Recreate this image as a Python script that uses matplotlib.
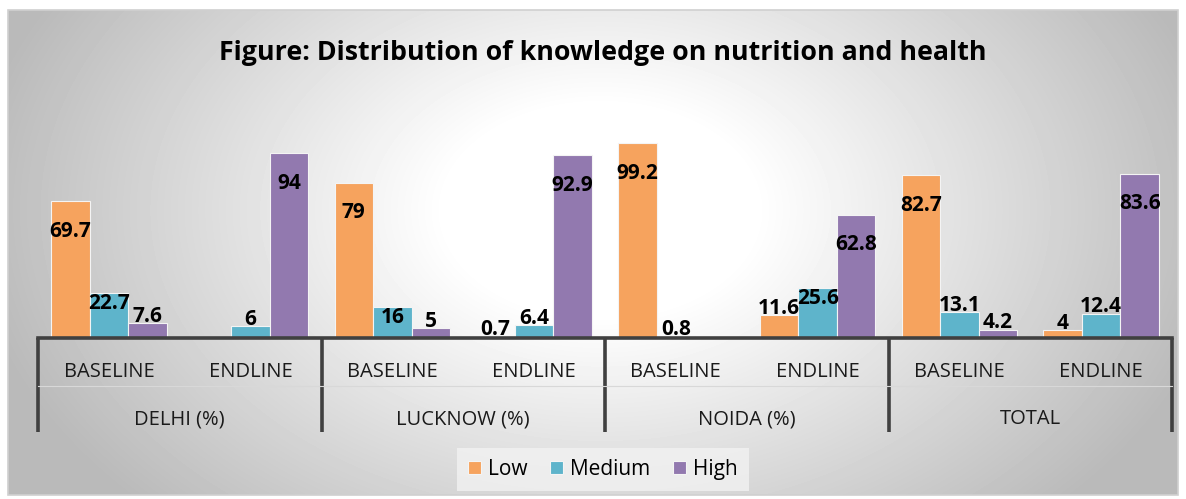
import numpy as np
import matplotlib
matplotlib.use("Agg")
import matplotlib.pyplot as plt
from matplotlib.patches import Rectangle

plt.rcParams['font.family'] = ['Open Sans', 'DejaVu Sans']

# ------------------------
# Data
# ------------------------
groups = ["DELHI (%)", "LUCKNOW (%)", "NOIDA (%)", "TOTAL"]
phases = ["BASELINE", "ENDLINE"]
low = [69.7, None, 79, 0.7, 99.2, 11.6, 82.7, 4]
medium = [22.7, 6, 16, 6.4, 0.8, 25.6, 13.1, 12.4]
high = [7.6, 94, 5, 92.9, None, 62.8, 4.2, 83.6]
series_names = ["Low", "Medium", "High"]
colors = ["#F6A35E", "#5EB4CB", "#9279AF"]

W, H = 1186, 499
fig = plt.figure(figsize=(W / 100, H / 100), dpi=100)

# ------------------------
# Background with radial gradient
# ------------------------
bg = fig.add_axes([0, 0, 1, 1])
bg.set_xlim(0, W)
bg.set_ylim(H, 0)
bg.axis("off")
yy, xx = np.mgrid[0:H, 0:W]
dist = np.sqrt(((xx - 600) / 620.0) ** 2 + ((yy - 210) / 420.0) ** 2)
shade = np.clip(1.0 - 0.30 * np.clip(dist - 0.25, 0, None) / 0.85, 0.73, 1.0)
img = bg.imshow(shade, cmap="gray", vmin=0, vmax=1, extent=(0, W, H, 0),
                interpolation="bilinear")
frame = Rectangle((8, 10), 1170, 485, facecolor="none", edgecolor="#d0d0d0", lw=1.2)
bg.add_patch(frame)
img.set_clip_path(frame)

# ------------------------
# Bars
# ------------------------
x0, x1, ybase, ppu = 38, 1172, 338, 1.965
ax = fig.add_axes([x0 / W, (H - ybase) / H, (x1 - x0) / W, 100 * ppu / H])
ax.patch.set_alpha(0)
n = len(low)
x = np.arange(n)
bw = 0.272
for k, (vals, c, name) in enumerate(zip([low, medium, high], colors, series_names)):
    xs = x + (k - 1) * bw
    v = np.array([np.nan if a is None else a for a in vals], dtype=float)
    ax.bar(xs, np.nan_to_num(v), width=bw, color=c, edgecolor="#f4f4f4",
           linewidth=0.8, label=name)
    for xi, vi in zip(xs, v):
        if np.isnan(vi):
            continue
        # label baseline offset from bar top, in pixels (Excel-ish placement)
        if vi >= 30:
            off = -35.5
        elif vi >= 15:
            off = -16
        else:
            off = 1.5
        ax.text(xi, vi + off / ppu, f"{vi:g}", ha="center", va="baseline",
                fontsize=15, fontweight="bold", color="black")

ax.set_xlim(-0.5, n - 0.5)
ax.set_ylim(0, 100)
for s in ["top", "right", "left"]:
    ax.spines[s].set_visible(False)
ax.spines["bottom"].set_color("#404040")
ax.spines["bottom"].set_linewidth(2.6)
ax.set_xticks([])
ax.set_yticks([])

# ------------------------
# Two-level category axis
# ------------------------
tr = ax.get_xaxis_transform()
to_ax = lambda py: -(py - ybase) / (100 * ppu)
for i in range(n):
    ax.text(i, to_ax(377), phases[i % 2], transform=tr, ha="center", va="baseline",
            fontsize=14.5, color="#1a1a1a", clip_on=False)
for g, name in enumerate(groups):
    ax.text(2 * g + 0.5, to_ax(424), name, transform=tr, ha="center", va="baseline",
            fontsize=14.5, color="#1a1a1a", clip_on=False)
for d in np.arange(-0.5, n, 2):
    ax.plot([d, d], [0, to_ax(432)], transform=tr, color="#404040", lw=2.6,
            clip_on=False, solid_capstyle="butt")
ax.plot([-0.5, n - 0.5], [to_ax(386)] * 2, transform=tr, color="#d8d8d8", lw=0.8,
        clip_on=False)

# ------------------------
# Title and legend
# ------------------------
fig.text(603 / W, 1 - 60 / H, "Figure: Distribution of knowledge on nutrition and health",
         ha="center", va="baseline", fontsize=19.3, fontweight="bold")
leg = fig.legend(loc="center", bbox_to_anchor=(603 / W, 1 - 469.5 / H), ncol=3,
                 fontsize=15, frameon=True, handlelength=0.6, handleheight=0.6,
                 handletextpad=0.35, columnspacing=1.1, fancybox=False,
                 borderpad=0.55)
leg.get_frame().set_facecolor("#f2f2f2")
leg.get_frame().set_edgecolor("none")

fig.savefig("out.png", dpi=100)
